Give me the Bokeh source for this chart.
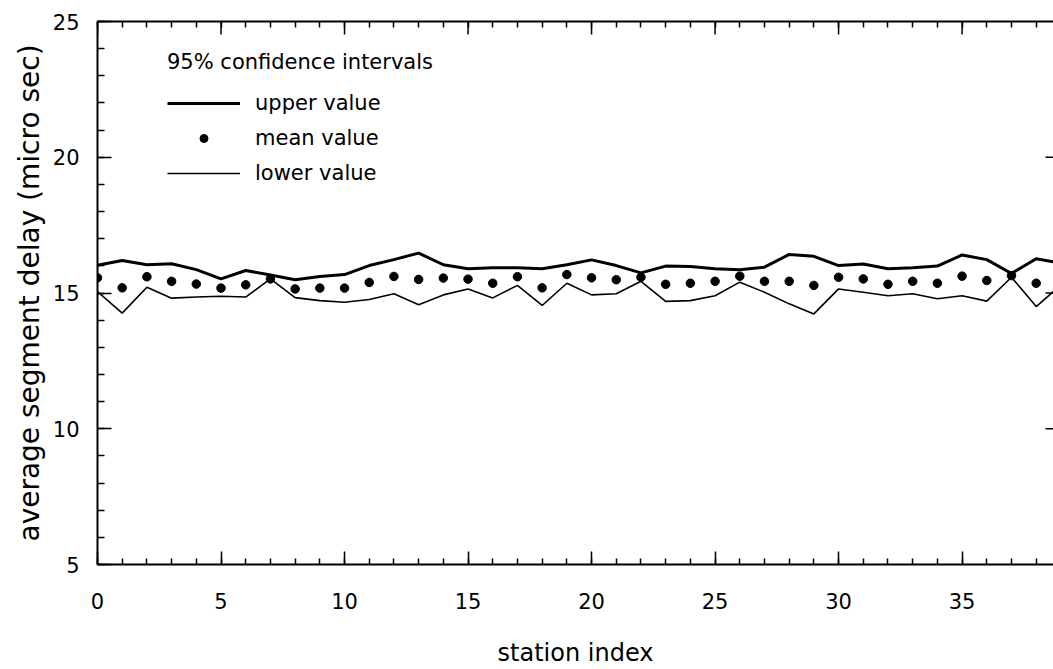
import math

from bokeh.plotting import figure
from bokeh.models import (LinearAxis, SingleIntervalTicker, FixedTicker, Range1d,
                          Legend, LegendItem, ColumnDataSource)
from bokeh.embed import file_html
from bokeh.resources import INLINE

# average segment delay per station, with 95% confidence bounds (micro sec)
station = list(range(40))
upper = [16.02, 16.20, 16.04, 16.08, 15.86, 15.52, 15.83, 15.66, 15.49, 15.61,
         15.68, 16.01, 16.23, 16.47, 16.04, 15.89, 15.93, 15.93, 15.89, 16.04,
         16.22, 16.01, 15.74, 15.99, 15.98, 15.89, 15.86, 15.95, 16.42, 16.35,
         16.01, 16.07, 15.89, 15.93, 15.99, 16.40, 16.23, 15.72, 16.26, 16.10]
mean = [15.56, 15.19, 15.60, 15.43, 15.33, 15.18, 15.30, 15.52, 15.15, 15.18,
        15.18, 15.39, 15.61, 15.50, 15.55, 15.51, 15.36, 15.60, 15.19, 15.68,
        15.56, 15.49, 15.58, 15.32, 15.36, 15.43, 15.62, 15.43, 15.43, 15.28,
        15.58, 15.52, 15.32, 15.43, 15.36, 15.62, 15.46, 15.64, 15.36, 15.55]
lower = [15.05, 14.26, 15.21, 14.81, 14.85, 14.88, 14.85, 15.52, 14.83, 14.72,
         14.66, 14.76, 14.97, 14.57, 14.93, 15.15, 14.82, 15.28, 14.54, 15.36,
         14.93, 14.97, 15.43, 14.69, 14.72, 14.90, 15.40, 15.03, 14.60, 14.23,
         15.15, 15.03, 14.90, 14.97, 14.79, 14.90, 14.70, 15.58, 14.50, 15.30]

# tick positions for the mirrored top and right frame edges
x_major = [0, 5, 10, 15, 20, 25, 30, 35]
x_minor = list(range(0, 39))
y_major_right = [10, 15, 20]

X_END = 38.7
Y_TOP = 25
FONT = "DejaVu Sans"

src = ColumnDataSource(dict(station=station, upper=upper, mean=mean, lower=lower))

p = figure(width=1053, height=669, output_backend="svg", toolbar_location=None,
           x_range=Range1d(0, X_END), y_range=Range1d(5, Y_TOP),
           x_axis_location=None, y_axis_location=None,
           min_border_left=97, min_border_right=0, min_border_top=21,
           min_border_bottom=105)
p.outline_line_color = None
p.background_fill_color = "white"
p.border_fill_color = "white"
p.xgrid.visible = False
p.ygrid.visible = False


def frame_axis(ax, tick_in=13, minor_in=6):
    ax.axis_line_width = 2
    ax.axis_line_color = "black"
    ax.major_tick_in = tick_in
    ax.major_tick_out = 0
    ax.minor_tick_in = minor_in
    ax.minor_tick_out = 0
    ax.major_tick_line_width = 1.5
    ax.minor_tick_line_width = 1.5
    ax.major_tick_line_color = "black"
    ax.minor_tick_line_color = "black"
    ax.major_label_text_font = FONT
    ax.major_label_text_font_size = "21px"
    ax.major_label_text_color = "black"
    ax.axis_label_text_font = FONT
    ax.axis_label_text_font_style = "normal"
    ax.axis_label_text_color = "black"


bottom = LinearAxis(axis_label="station index",
                    ticker=SingleIntervalTicker(interval=5, num_minor_ticks=5))
frame_axis(bottom)
bottom.major_label_standoff = 28
bottom.axis_label_text_font_size = "24px"
bottom.axis_label_standoff = 27
p.add_layout(bottom, "below")

left = LinearAxis(axis_label="average segment delay (micro sec)",
                  ticker=SingleIntervalTicker(interval=5, num_minor_ticks=5))
frame_axis(left, tick_in=14, minor_in=7)
left.major_label_standoff = 18
left.axis_label_text_font_size = "28px"
left.axis_label_standoff = 4
p.add_layout(left, "left")

# top frame edge: line plus short ticks at every station
top = LinearAxis(ticker=FixedTicker(ticks=[], minor_ticks=x_minor))
frame_axis(top)
p.add_layout(top, "above")

# longer ticks at every fifth station along the top edge
p.ray(x=x_major, y=[Y_TOP] * len(x_major), length=13, length_units="screen",
      angle=-math.pi / 2, line_color="black", line_width=1.5)
# ticks hanging in from the right edge
p.ray(x=[X_END] * len(y_major_right), y=y_major_right, length=8,
      length_units="screen", angle=math.pi, line_color="black", line_width=1.5)

r_up = p.line("station", "upper", source=src, line_color="black", line_width=3)
r_mean = p.scatter("station", "mean", source=src, size=8.5, marker="circle",
                   fill_color="black", line_color="black")
r_low = p.line("station", "lower", source=src, line_color="black", line_width=1.6)

legend = Legend(
    items=[LegendItem(label="upper value", renderers=[r_up]),
           LegendItem(label="mean value", renderers=[r_mean]),
           LegendItem(label="lower value", renderers=[r_low])],
    location=(70, 379),
    title="95% confidence intervals",
    title_text_font=FONT, title_text_font_size="21px",
    title_text_font_style="normal", title_text_color="black",
    title_standoff=17,
    label_text_font=FONT, label_text_font_size="21px", label_text_color="black",
    glyph_width=73, glyph_height=20, label_height=20, label_standoff=15,
    spacing=11, padding=0, margin=0,
    border_line_color=None, background_fill_alpha=0,
)
p.add_layout(legend)

open("out.html", "w").write(file_html(p, INLINE))
